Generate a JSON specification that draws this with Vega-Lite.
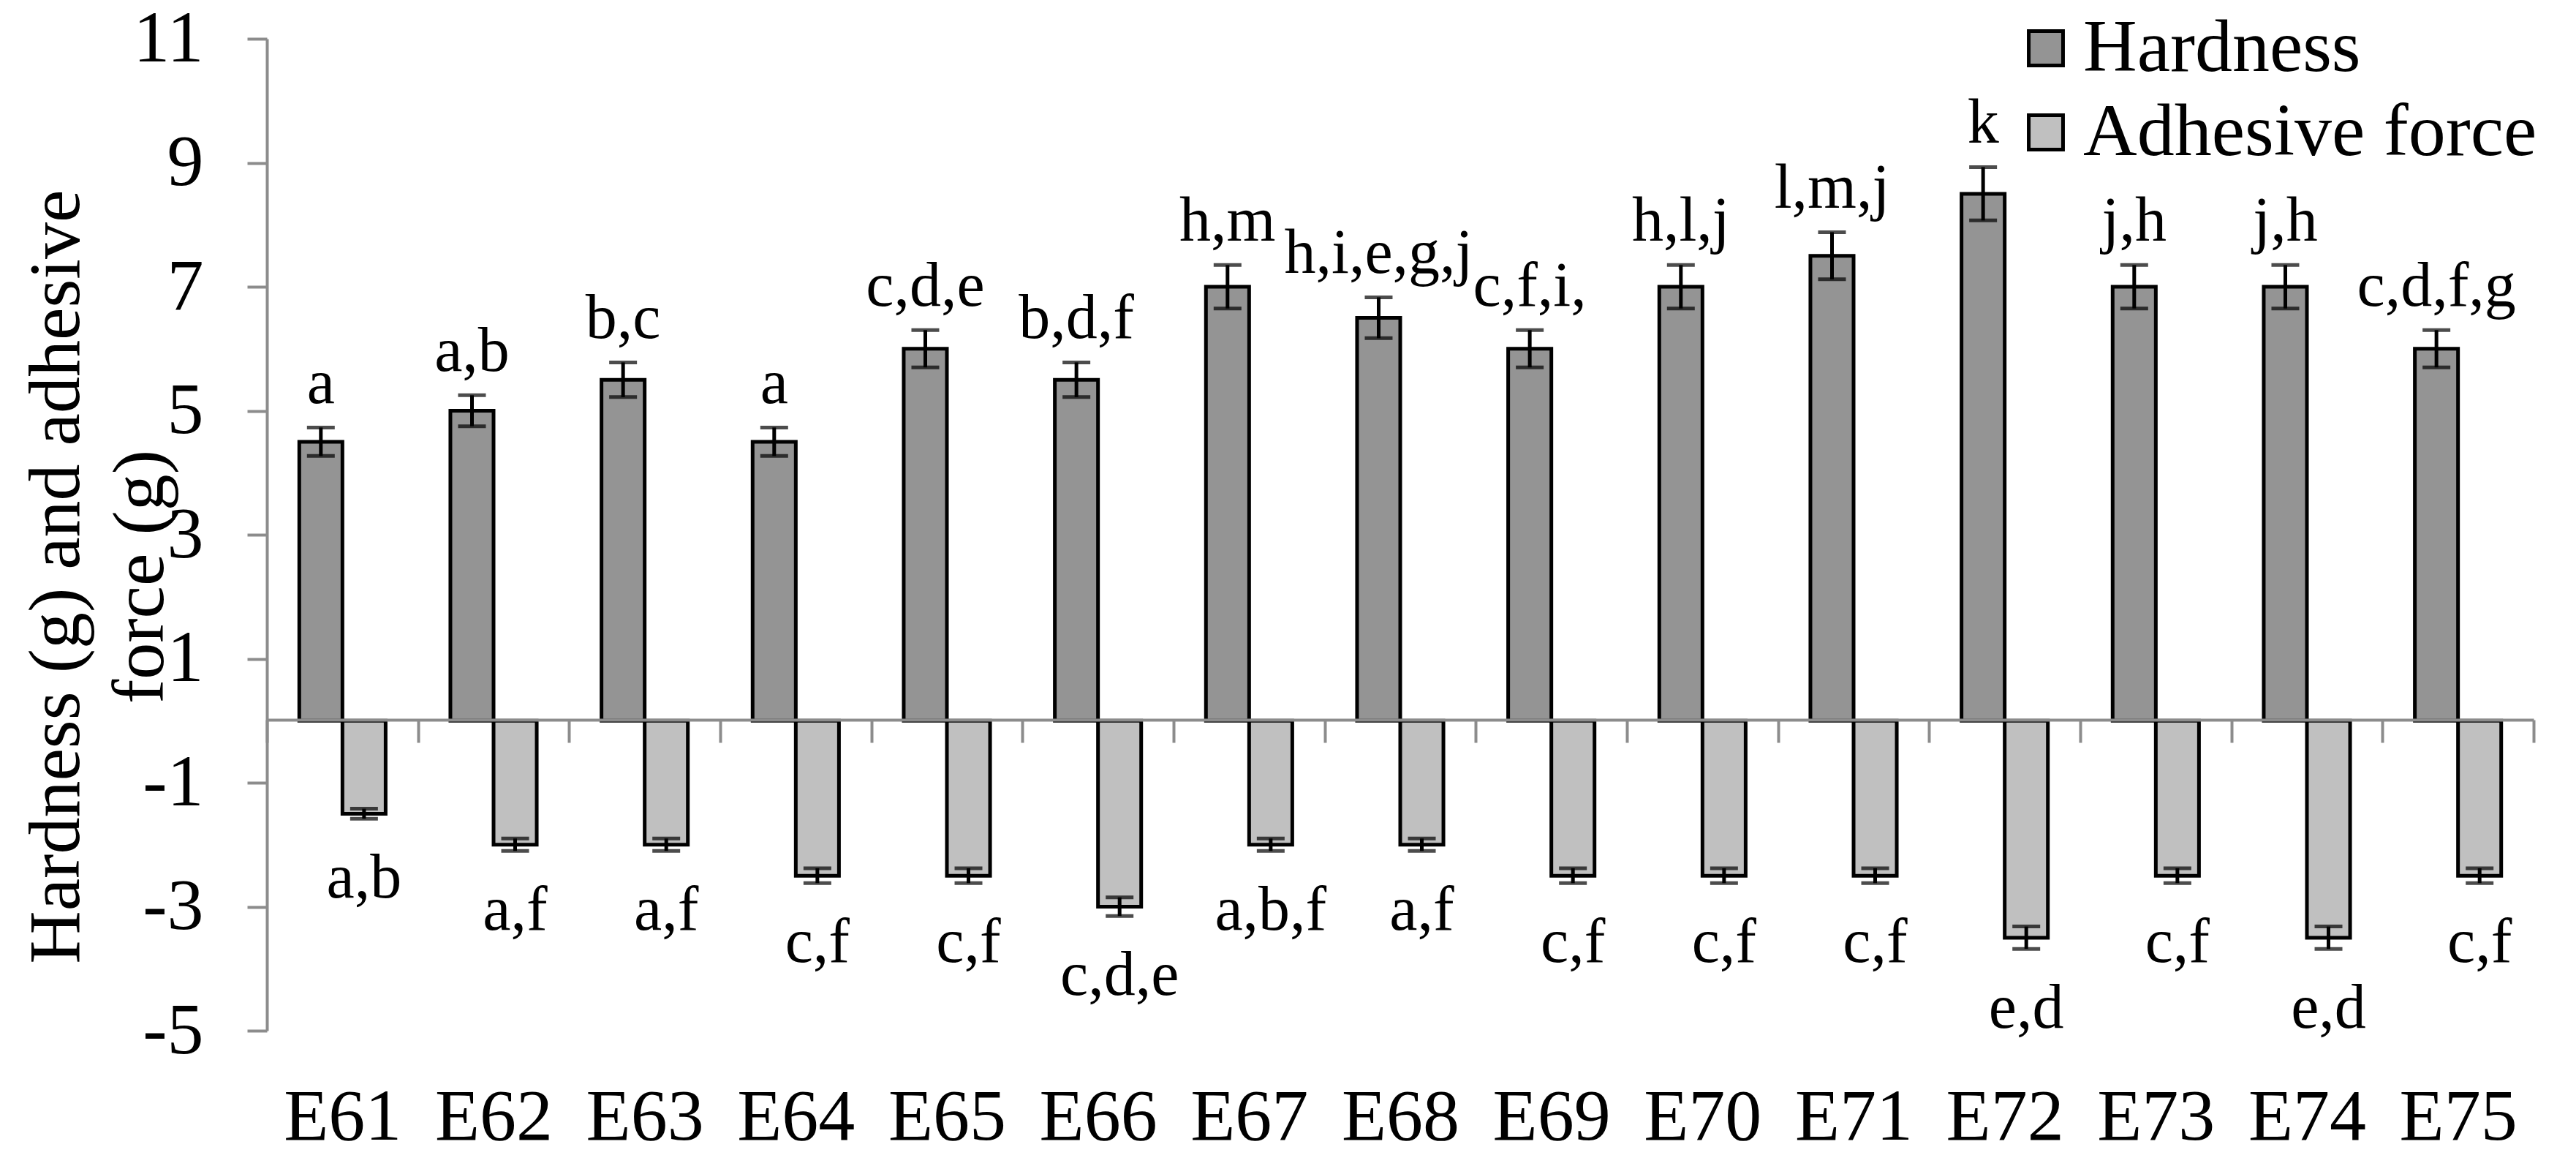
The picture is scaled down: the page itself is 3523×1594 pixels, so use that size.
{
  "$schema": "https://vega.github.io/schema/vega-lite/v6.json",
  "autosize": {"type": "none"},
  "padding": {"left": 365, "top": 53, "right": 58, "bottom": 185},
  "width": 3100,
  "height": 1356,
  "background": "white",
  "config": {
    "view": {"stroke": null},
    "font": "Liberation Serif"
  },
  "data": {
    "values": [
      {"cat": "E61", "series": "Hardness", "value": 4.5, "lo": 4.27, "hi": 4.73, "label": "a"},
      {"cat": "E62", "series": "Hardness", "value": 5.0, "lo": 4.75, "hi": 5.25, "label": "a,b"},
      {"cat": "E63", "series": "Hardness", "value": 5.5, "lo": 5.22, "hi": 5.78, "label": "b,c"},
      {"cat": "E64", "series": "Hardness", "value": 4.5, "lo": 4.27, "hi": 4.73, "label": "a"},
      {"cat": "E65", "series": "Hardness", "value": 6.0, "lo": 5.7, "hi": 6.3, "label": "c,d,e"},
      {"cat": "E66", "series": "Hardness", "value": 5.5, "lo": 5.22, "hi": 5.78, "label": "b,d,f"},
      {"cat": "E67", "series": "Hardness", "value": 7.0, "lo": 6.65, "hi": 7.35, "label": "h,m"},
      {"cat": "E68", "series": "Hardness", "value": 6.5, "lo": 6.17, "hi": 6.83, "label": "h,i,e,g,j"},
      {"cat": "E69", "series": "Hardness", "value": 6.0, "lo": 5.7, "hi": 6.3, "label": "c,f,i,"},
      {"cat": "E70", "series": "Hardness", "value": 7.0, "lo": 6.65, "hi": 7.35, "label": "h,l,j"},
      {"cat": "E71", "series": "Hardness", "value": 7.5, "lo": 7.12, "hi": 7.88, "label": "l,m,j"},
      {"cat": "E72", "series": "Hardness", "value": 8.5, "lo": 8.07, "hi": 8.93, "label": "k"},
      {"cat": "E73", "series": "Hardness", "value": 7.0, "lo": 6.65, "hi": 7.35, "label": "j,h"},
      {"cat": "E74", "series": "Hardness", "value": 7.0, "lo": 6.65, "hi": 7.35, "label": "j,h"},
      {"cat": "E75", "series": "Hardness", "value": 6.0, "lo": 5.7, "hi": 6.3, "label": "c,d,f,g"},
      {"cat": "E61", "series": "Adhesive force", "value": -1.5, "lo": -1.58, "hi": -1.42, "label": "a,b"},
      {"cat": "E62", "series": "Adhesive force", "value": -2.0, "lo": -2.1, "hi": -1.9, "label": "a,f"},
      {"cat": "E63", "series": "Adhesive force", "value": -2.0, "lo": -2.1, "hi": -1.9, "label": "a,f"},
      {"cat": "E64", "series": "Adhesive force", "value": -2.5, "lo": -2.62, "hi": -2.38, "label": "c,f"},
      {"cat": "E65", "series": "Adhesive force", "value": -2.5, "lo": -2.62, "hi": -2.38, "label": "c,f"},
      {"cat": "E66", "series": "Adhesive force", "value": -3.0, "lo": -3.15, "hi": -2.85, "label": "c,d,e"},
      {"cat": "E67", "series": "Adhesive force", "value": -2.0, "lo": -2.1, "hi": -1.9, "label": "a,b,f"},
      {"cat": "E68", "series": "Adhesive force", "value": -2.0, "lo": -2.1, "hi": -1.9, "label": "a,f"},
      {"cat": "E69", "series": "Adhesive force", "value": -2.5, "lo": -2.62, "hi": -2.38, "label": "c,f"},
      {"cat": "E70", "series": "Adhesive force", "value": -2.5, "lo": -2.62, "hi": -2.38, "label": "c,f"},
      {"cat": "E71", "series": "Adhesive force", "value": -2.5, "lo": -2.62, "hi": -2.38, "label": "c,f"},
      {"cat": "E72", "series": "Adhesive force", "value": -3.5, "lo": -3.68, "hi": -3.32, "label": "e,d"},
      {"cat": "E73", "series": "Adhesive force", "value": -2.5, "lo": -2.62, "hi": -2.38, "label": "c,f"},
      {"cat": "E74", "series": "Adhesive force", "value": -3.5, "lo": -3.68, "hi": -3.32, "label": "e,d"},
      {"cat": "E75", "series": "Adhesive force", "value": -2.5, "lo": -2.62, "hi": -2.38, "label": "c,f"}
    ]
  },
  "encoding": {
    "x": {
      "field": "cat",
      "type": "nominal",
      "sort": null,
      "title": null,
      "scale": {"paddingInner": 0, "paddingOuter": 0},
      "axis": {
        "orient": "bottom",
        "offset": -425,
        "zindex": 1,
        "domainColor": "#8c8c8c",
        "domainWidth": 4,
        "tickBand": "extent",
        "tickColor": "#8c8c8c",
        "tickWidth": 4,
        "tickSize": 31,
        "labelAngle": 0,
        "labelFont": "Liberation Serif",
        "labelFontSize": 100,
        "labelColor": "black",
        "labelBaseline": "alphabetic",
        "labelPadding": 542
      }
    },
    "xOffset": {
      "field": "series",
      "type": "nominal",
      "sort": null,
      "scale": {"domain": ["Hardness", "Adhesive force"], "paddingInner": 0, "paddingOuter": 0.75}
    }
  },
  "layer": [
    {
      "mark": {"type": "bar", "stroke": "black", "strokeWidth": 5},
      "encoding": {
        "y": {
          "field": "value",
          "type": "quantitative",
          "scale": {"domain": [-5, 11], "nice": false},
          "axis": {
            "values": [-5, -3, -1, 1, 3, 5, 7, 9, 11],
            "labelExpr": "datum.value < 0 ? '-' + abs(datum.value) : '' + datum.value",
            "grid": false,
            "domainColor": "#8c8c8c",
            "domainWidth": 4,
            "tickColor": "#8c8c8c",
            "tickWidth": 4,
            "tickSize": 27,
            "labelFont": "Liberation Serif",
            "labelFontSize": 100,
            "labelColor": "black",
            "labelLimit": 1000,
            "labelPadding": 60,
            "title": ["Hardness (g) and adhesive", "force (g)"],
            "titleFont": "Liberation Serif",
            "titleFontSize": 100,
            "titleFontWeight": "normal",
            "titleColor": "black",
            "titleAngle": -90,
            "titleAlign": "center",
            "titleBaseline": "alphabetic",
            "titleLineHeight": 115,
            "titleX": -258,
            "titleY": 735
          }
        },
        "color": {
          "field": "series",
          "type": "nominal",
          "scale": {"domain": ["Hardness", "Adhesive force"], "range": ["#949494", "#c0c0c0"]},
          "legend": {
            "orient": "none",
            "legendX": 2382,
            "legendY": -38,
            "title": null,
            "symbolType": "square",
            "symbolSize": 2200,
            "symbolStrokeColor": "black",
            "symbolStrokeWidth": 5,
            "labelFont": "Liberation Serif",
            "labelFontSize": 102,
            "labelColor": "black",
            "labelOffset": 0,
            "labelLimit": 1000,
            "rowPadding": 13
          }
        }
      }
    },
    {
      "mark": {"type": "rule", "color": "black", "strokeWidth": 5},
      "encoding": {
        "y": {"field": "lo", "type": "quantitative"},
        "y2": {"field": "hi"}
      }
    },
    {
      "mark": {"type": "tick", "color": "black", "size": 38, "thickness": 5, "orient": "horizontal"},
      "encoding": {
        "y": {"field": "lo", "type": "quantitative"}
      }
    },
    {
      "mark": {"type": "tick", "color": "black", "size": 38, "thickness": 5, "orient": "horizontal"},
      "encoding": {
        "y": {"field": "hi", "type": "quantitative"}
      }
    },
    {
      "transform": [{"filter": "datum.series === 'Hardness'"}],
      "mark": {"type": "text", "font": "Liberation Serif", "fontSize": 86, "color": "black", "align": "center", "baseline": "alphabetic", "dy": -33},
      "encoding": {
        "y": {"field": "hi", "type": "quantitative"},
        "text": {"field": "label"}
      }
    },
    {
      "transform": [{"filter": "datum.series === 'Adhesive force'"}],
      "mark": {"type": "text", "font": "Liberation Serif", "fontSize": 86, "color": "black", "align": "center", "baseline": "alphabetic", "dy": 108},
      "encoding": {
        "y": {"field": "lo", "type": "quantitative"},
        "text": {"field": "label"}
      }
    }
  ]
}
